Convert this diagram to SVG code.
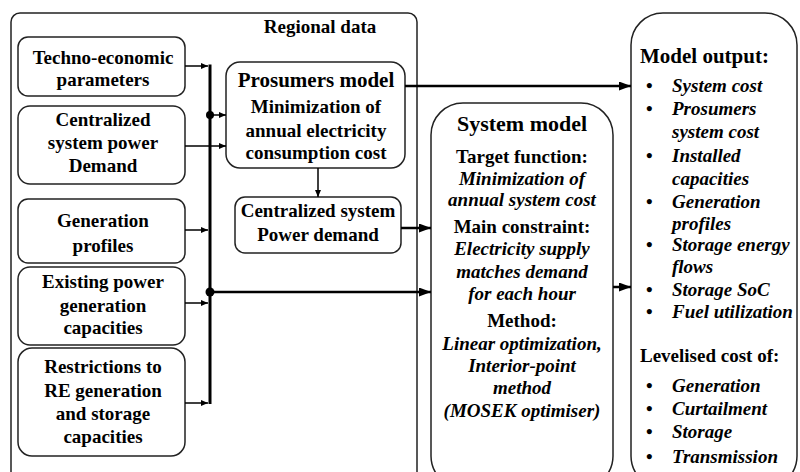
<svg xmlns="http://www.w3.org/2000/svg" width="800" height="472" viewBox="0 0 800 472">
<defs>
<style>
.box{fill:#fff;stroke:#222;stroke-width:1.5}
.c{text-anchor:middle}
.i{font-style:italic}
.h{font-size:21px}
.thin{stroke:#000;stroke-width:1.5;fill:none}
.thick{stroke:#000;stroke-width:3;fill:none}
</style>
<marker id="as" markerWidth="7" markerHeight="6" refX="7" refY="3" orient="auto" markerUnits="userSpaceOnUse"><path d="M0,0 L7,3 L0,6 z" fill="#000"/></marker>
<marker id="al" markerWidth="12" markerHeight="9" refX="12" refY="4.5" orient="auto" markerUnits="userSpaceOnUse"><path d="M0,0 L12,4.5 L0,9 z" fill="#000"/></marker>
</defs>
<rect width="800" height="472" fill="#fff"/>
<g font-family="'Liberation Serif', 'DejaVu Serif', serif" font-weight="bold" font-size="19" fill="#000">

<g id="regional-data">
<rect class="box" x="11" y="13" width="406" height="490" rx="9"/>
<text class="c" x="320" y="33">Regional data</text>
</g>

<g id="techno-economic">
<rect class="box" x="18" y="37" width="167" height="59" rx="10"/>
<text class="c" x="103" y="64">Techno-economic</text>
<text class="c" x="103" y="86">parameters</text>
</g>

<g id="centralized-demand">
<rect class="box" x="18" y="106" width="167" height="78" rx="12"/>
<text class="c" x="103" y="126">Centralized</text>
<text class="c" x="103" y="149">system power</text>
<text class="c" x="103" y="172">Demand</text>
</g>

<g id="generation-profiles">
<rect class="box" x="18" y="199" width="167" height="64" rx="10"/>
<text class="c" x="103" y="227">Generation</text>
<text class="c" x="103" y="252">profiles</text>
</g>

<g id="existing-capacities">
<rect class="box" x="18" y="267" width="167" height="78" rx="12"/>
<text class="c" x="103" y="288">Existing power</text>
<text class="c" x="103" y="312">generation</text>
<text class="c" x="103" y="334">capacities</text>
</g>

<g id="restrictions">
<rect class="box" x="18" y="348" width="167" height="108" rx="14"/>
<text class="c" x="103" y="373">Restrictions to</text>
<text class="c" x="103" y="397">RE generation</text>
<text class="c" x="103" y="420">and storage</text>
<text class="c" x="103" y="443">capacities</text>
</g>

<g id="prosumers-model">
<rect class="box" x="226" y="62" width="179" height="106" rx="14"/>
<text class="c h" x="316" y="87">Prosumers model</text>
<text class="c" x="316" y="113">Minimization of</text>
<text class="c" x="316" y="137">annual electricity</text>
<text class="c" x="316" y="159">consumption cost</text>
</g>

<g id="centralized-system-demand">
<rect class="box" x="235" y="197" width="166" height="56" rx="10"/>
<text class="c" x="318" y="217">Centralized system</text>
<text class="c" x="318" y="241">Power demand</text>
</g>

<g id="system-model">
<rect class="box" x="431" y="103" width="182" height="385" rx="32"/>
<text class="c" x="522" y="131" font-size="22">System model</text>
<text class="c" x="522" y="163">Target function:</text>
<text class="c i" x="522" y="185">Minimization of</text>
<text class="c i" x="522" y="206">annual system cost</text>
<text class="c" x="522" y="233">Main constraint:</text>
<text class="c i" x="522" y="255">Electricity supply</text>
<text class="c i" x="522" y="278">matches demand</text>
<text class="c i" x="522" y="300">for each hour</text>
<text class="c" x="522" y="327">Method:</text>
<text class="c i" x="522" y="350">Linear optimization,</text>
<text class="c i" x="522" y="372">Interior-point</text>
<text class="c i" x="522" y="394">method</text>
<text class="c i" x="522" y="417">(MOSEK optimiser)</text>
</g>

<g id="model-output">
<rect class="box" x="631" y="13" width="166" height="475" rx="32"/>
<text class="h" x="640" y="63">Model output:</text>
<g>
<text x="646" y="92">•</text>
<text x="646" y="115">•</text>
<text x="646" y="162">•</text>
<text x="646" y="208">•</text>
<text x="646" y="251">•</text>
<text x="646" y="296">•</text>
<text x="646" y="318">•</text>
<text x="646" y="392">•</text>
<text x="646" y="415">•</text>
<text x="646" y="438">•</text>
<text x="646" y="463">•</text>
</g>
<g class="i">
<text x="672" y="92">System cost</text>
<text x="672" y="115">Prosumers</text>
<text x="672" y="138">system cost</text>
<text x="672" y="162">Installed</text>
<text x="672" y="185">capacities</text>
<text x="672" y="208">Generation</text>
<text x="672" y="230">profiles</text>
<text x="672" y="251">Storage energy</text>
<text x="672" y="273">flows</text>
<text x="672" y="296">Storage SoC</text>
<text x="672" y="318">Fuel utilization</text>
</g>
<text x="640" y="362">Levelised cost of:</text>
<g class="i">
<text x="672" y="392">Generation</text>
<text x="672" y="415">Curtailment</text>
<text x="672" y="438">Storage</text>
<text x="672" y="463">Transmission</text>
</g>
</g>
</g>

<g id="connectors">
<path class="thick" d="M210,64.5 V404"/>
<path class="thin" d="M185,66 H208" marker-end="url(#as)"/>
<path class="thin" d="M185,230 H208" marker-end="url(#as)"/>
<path class="thin" d="M185,303 H208" marker-end="url(#as)"/>
<path class="thin" d="M185,403 H208" marker-end="url(#as)"/>
<path class="thin" d="M185,146 H226" marker-end="url(#as)"/>
<circle cx="210" cy="115" r="4" fill="#000"/>
<path class="thin" d="M210,115 H226" marker-end="url(#as)"/>
<circle cx="210" cy="292" r="4.5" fill="#000"/>
<path class="thick" d="M210,292 H431" style="stroke-width:2.5" marker-end="url(#al)"/>
<path class="thin" d="M318,168 V197" marker-end="url(#as)"/>
<path class="thick" d="M405,86 H631" style="stroke-width:2.5" marker-end="url(#al)"/>
<path class="thick" d="M401,228 H431" style="stroke-width:2.5" marker-end="url(#al)"/>
<path class="thick" d="M613,287 H631" style="stroke-width:2.5" marker-end="url(#al)"/>
</g>
</svg>
